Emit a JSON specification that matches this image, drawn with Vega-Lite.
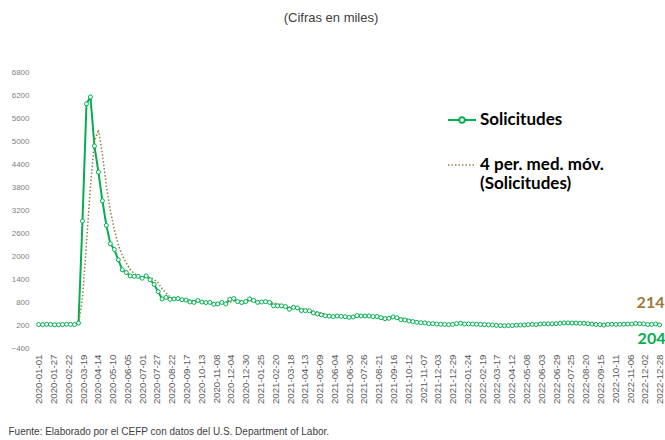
{
  "$schema": "https://vega.github.io/schema/vega-lite/v6.json",
  "autosize": {"type": "none"},
  "width": 630,
  "height": 276,
  "padding": {"left": 37, "top": 72, "right": 0, "bottom": 92},
  "background": "white",
  "title": {"text": "(Cifras en miles)", "anchor": "middle", "frame": "group", "offset": 43, "dx": -21, "font": "Liberation Sans", "fontSize": 13, "fontWeight": "normal", "color": "#404040"},
  "config": {"view": {"stroke": null}},
  "datasets": {
    "claims": [
      {"d":"2020-01-01","v":212},{"d":"2020-01-08","v":210},{"d":"2020-01-15","v":218},
      {"d":"2020-01-22","v":214,"m":213.5},{"d":"2020-01-29","v":205,"m":211.75},{"d":"2020-02-05","v":206,"m":210.75},
      {"d":"2020-02-12","v":212,"m":209.25},{"d":"2020-02-19","v":218,"m":210.25},{"d":"2020-02-26","v":216,"m":213},
      {"d":"2020-03-04","v":211,"m":214.25},{"d":"2020-03-11","v":251,"m":224},{"d":"2020-03-18","v":2914,"m":898},
      {"d":"2020-03-25","v":5970,"m":2336.5},{"d":"2020-04-01","v":6149,"m":3821},{"d":"2020-04-08","v":4870,"m":4975.75},
      {"d":"2020-04-15","v":4190,"m":5294.75},{"d":"2020-04-22","v":3440,"m":4662.25},{"d":"2020-04-29","v":2800,"m":3825},
      {"d":"2020-05-06","v":2320,"m":3187.5},{"d":"2020-05-13","v":2170,"m":2682.5},{"d":"2020-05-20","v":1900,"m":2297.5},
      {"d":"2020-05-27","v":1640,"m":2007.5},{"d":"2020-06-03","v":1570,"m":1820},{"d":"2020-06-10","v":1480,"m":1647.5},
      {"d":"2020-06-17","v":1470,"m":1540},{"d":"2020-06-24","v":1470,"m":1497.5},{"d":"2020-07-01","v":1420,"m":1460},
      {"d":"2020-07-08","v":1480,"m":1460},{"d":"2020-07-15","v":1380,"m":1437.5},{"d":"2020-07-22","v":1260,"m":1385},
      {"d":"2020-07-29","v":1070,"m":1297.5},{"d":"2020-08-05","v":880,"m":1147.5},{"d":"2020-08-12","v":920,"m":1032.5},
      {"d":"2020-08-19","v":870,"m":935},{"d":"2020-08-26","v":880,"m":887.5},{"d":"2020-09-02","v":890,"m":890},
      {"d":"2020-09-09","v":860,"m":875},{"d":"2020-09-16","v":850,"m":870},{"d":"2020-09-23","v":800,"m":850},
      {"d":"2020-09-30","v":790,"m":825},{"d":"2020-10-07","v":840,"m":820},{"d":"2020-10-14","v":800,"m":807.5},
      {"d":"2020-10-21","v":785,"m":803.75},{"d":"2020-10-28","v":790,"m":803.75},{"d":"2020-11-04","v":740,"m":778.75},
      {"d":"2020-11-11","v":750,"m":766.25},{"d":"2020-11-18","v":790,"m":767.5},{"d":"2020-11-25","v":750,"m":757.5},
      {"d":"2020-12-02","v":870,"m":790},{"d":"2020-12-09","v":890,"m":825},{"d":"2020-12-16","v":810,"m":830},
      {"d":"2020-12-23","v":785,"m":838.75},{"d":"2020-12-30","v":810,"m":823.75},{"d":"2021-01-06","v":880,"m":821.25},
      {"d":"2021-01-13","v":840,"m":828.75},{"d":"2021-01-20","v":790,"m":830},{"d":"2021-01-27","v":800,"m":827.5},
      {"d":"2021-02-03","v":810,"m":810},{"d":"2021-02-10","v":790,"m":797.5},{"d":"2021-02-17","v":700,"m":775},
      {"d":"2021-02-24","v":700,"m":750},{"d":"2021-03-03","v":700,"m":722.5},{"d":"2021-03-10","v":680,"m":695},
      {"d":"2021-03-17","v":610,"m":672.5},{"d":"2021-03-24","v":660,"m":662.5},{"d":"2021-03-31","v":645,"m":648.75},
      {"d":"2021-04-07","v":575,"m":622.5},{"d":"2021-04-14","v":575,"m":613.75},{"d":"2021-04-21","v":570,"m":591.25},
      {"d":"2021-04-28","v":515,"m":558.75},{"d":"2021-05-05","v":490,"m":537.5},{"d":"2021-05-12","v":465,"m":510},
      {"d":"2021-05-19","v":440,"m":477.5},{"d":"2021-05-26","v":430,"m":456.25},{"d":"2021-06-02","v":420,"m":438.75},
      {"d":"2021-06-09","v":435,"m":431.25},{"d":"2021-06-16","v":425,"m":427.5},{"d":"2021-06-23","v":415,"m":423.75},
      {"d":"2021-06-30","v":400,"m":418.75},{"d":"2021-07-07","v":410,"m":412.5},{"d":"2021-07-14","v":445,"m":417.5},
      {"d":"2021-07-21","v":435,"m":422.5},{"d":"2021-07-28","v":435,"m":431.25},{"d":"2021-08-04","v":435,"m":437.5},
      {"d":"2021-08-11","v":420,"m":431.25},{"d":"2021-08-18","v":420,"m":427.5},{"d":"2021-08-25","v":390,"m":416.25},
      {"d":"2021-09-01","v":365,"m":398.75},{"d":"2021-09-08","v":375,"m":387.5},{"d":"2021-09-15","v":410,"m":385},
      {"d":"2021-09-22","v":390,"m":385},{"d":"2021-09-29","v":340,"m":378.75},{"d":"2021-10-06","v":330,"m":367.5},
      {"d":"2021-10-13","v":305,"m":341.25},{"d":"2021-10-20","v":290,"m":316.25},{"d":"2021-10-27","v":270,"m":298.75},
      {"d":"2021-11-03","v":260,"m":281.25},{"d":"2021-11-10","v":255,"m":268.75},{"d":"2021-11-17","v":235,"m":255},
      {"d":"2021-11-24","v":235,"m":246.25},{"d":"2021-12-01","v":225,"m":237.5},{"d":"2021-12-08","v":220,"m":228.75},
      {"d":"2021-12-15","v":215,"m":223.75},{"d":"2021-12-22","v":210,"m":217.5},{"d":"2021-12-29","v":215,"m":215},
      {"d":"2022-01-05","v":235,"m":218.75},{"d":"2022-01-12","v":245,"m":226.25},{"d":"2022-01-19","v":225,"m":230},
      {"d":"2022-01-26","v":230,"m":233.75},{"d":"2022-02-02","v":225,"m":231.25},{"d":"2022-02-09","v":220,"m":225},
      {"d":"2022-02-16","v":215,"m":222.5},{"d":"2022-02-23","v":210,"m":217.5},{"d":"2022-03-02","v":205,"m":212.5},
      {"d":"2022-03-09","v":200,"m":207.5},{"d":"2022-03-16","v":190,"m":201.25},{"d":"2022-03-23","v":185,"m":195},
      {"d":"2022-03-30","v":180,"m":188.75},{"d":"2022-04-06","v":185,"m":185},{"d":"2022-04-13","v":185,"m":183.75},
      {"d":"2022-04-20","v":195,"m":186.25},{"d":"2022-04-27","v":200,"m":191.25},{"d":"2022-05-04","v":200,"m":195},
      {"d":"2022-05-11","v":210,"m":201.25},{"d":"2022-05-18","v":215,"m":206.25},{"d":"2022-05-25","v":210,"m":208.75},
      {"d":"2022-06-01","v":225,"m":215},{"d":"2022-06-08","v":230,"m":220},{"d":"2022-06-15","v":230,"m":223.75},
      {"d":"2022-06-22","v":230,"m":228.75},{"d":"2022-06-29","v":235,"m":231.25},{"d":"2022-07-06","v":245,"m":235},
      {"d":"2022-07-13","v":255,"m":241.25},{"d":"2022-07-20","v":255,"m":247.5},{"d":"2022-07-27","v":250,"m":251.25},
      {"d":"2022-08-03","v":250,"m":252.5},{"d":"2022-08-10","v":245,"m":250},{"d":"2022-08-17","v":245,"m":247.5},
      {"d":"2022-08-24","v":235,"m":243.75},{"d":"2022-08-31","v":225,"m":237.5},{"d":"2022-09-07","v":215,"m":230},
      {"d":"2022-09-14","v":210,"m":221.25},{"d":"2022-09-21","v":200,"m":212.5},{"d":"2022-09-28","v":215,"m":210},
      {"d":"2022-10-05","v":220,"m":211.25},{"d":"2022-10-12","v":215,"m":212.5},{"d":"2022-10-19","v":220,"m":217.5},
      {"d":"2022-10-26","v":220,"m":218.75},{"d":"2022-11-02","v":225,"m":220},{"d":"2022-11-09","v":225,"m":222.5},
      {"d":"2022-11-16","v":240,"m":227.5},{"d":"2022-11-23","v":230,"m":230},{"d":"2022-11-30","v":230,"m":231.25},
      {"d":"2022-12-07","v":211,"m":227.75},{"d":"2022-12-14","v":216,"m":221.75},{"d":"2022-12-21","v":225,"m":220.5},
      {"d":"2022-12-28","v":204,"m":214}
    ]
  },
  "encoding": {
    "x": {
      "field": "d", "type": "temporal",
      "scale": {"type": "utc", "domain": [{"year": 2019, "month": 12, "date": 29, "utc": true}, {"year": 2023, "month": 1, "date": 10, "utc": true}]},
      "axis": {
        "values": [
          {"year":2020,"month":1,"date":1,"utc":true},{"year":2020,"month":1,"date":27,"utc":true},{"year":2020,"month":2,"date":22,"utc":true},
          {"year":2020,"month":3,"date":19,"utc":true},{"year":2020,"month":4,"date":14,"utc":true},{"year":2020,"month":5,"date":10,"utc":true},
          {"year":2020,"month":6,"date":5,"utc":true},{"year":2020,"month":7,"date":1,"utc":true},{"year":2020,"month":7,"date":27,"utc":true},
          {"year":2020,"month":8,"date":22,"utc":true},{"year":2020,"month":9,"date":17,"utc":true},{"year":2020,"month":10,"date":13,"utc":true},
          {"year":2020,"month":11,"date":8,"utc":true},{"year":2020,"month":12,"date":4,"utc":true},{"year":2020,"month":12,"date":30,"utc":true},
          {"year":2021,"month":1,"date":25,"utc":true},{"year":2021,"month":2,"date":20,"utc":true},{"year":2021,"month":3,"date":18,"utc":true},
          {"year":2021,"month":4,"date":13,"utc":true},{"year":2021,"month":5,"date":9,"utc":true},{"year":2021,"month":6,"date":4,"utc":true},
          {"year":2021,"month":6,"date":30,"utc":true},{"year":2021,"month":7,"date":26,"utc":true},{"year":2021,"month":8,"date":21,"utc":true},
          {"year":2021,"month":9,"date":16,"utc":true},{"year":2021,"month":10,"date":12,"utc":true},{"year":2021,"month":11,"date":7,"utc":true},
          {"year":2021,"month":12,"date":3,"utc":true},{"year":2021,"month":12,"date":29,"utc":true},{"year":2022,"month":1,"date":24,"utc":true},
          {"year":2022,"month":2,"date":19,"utc":true},{"year":2022,"month":3,"date":17,"utc":true},{"year":2022,"month":4,"date":12,"utc":true},
          {"year":2022,"month":5,"date":8,"utc":true},{"year":2022,"month":6,"date":3,"utc":true},{"year":2022,"month":6,"date":29,"utc":true},
          {"year":2022,"month":7,"date":25,"utc":true},{"year":2022,"month":8,"date":20,"utc":true},{"year":2022,"month":9,"date":15,"utc":true},
          {"year":2022,"month":10,"date":11,"utc":true},{"year":2022,"month":11,"date":6,"utc":true},{"year":2022,"month":12,"date":2,"utc":true},
          {"year":2022,"month":12,"date":28,"utc":true}
        ],
        "labelExpr": "utcFormat(datum.value, '%Y-%m-%d')",
        "labelAngle": -90, "labelFont": "Liberation Sans", "labelFontSize": 9.7, "labelColor": "#595959",
        "labelPadding": 6, "ticks": false, "domain": false, "grid": false, "labelOverlap": false, "labelBound": false, "labelFlush": false,
        "title": "Fuente: Elaborado por el CEFP con datos del U.S. Department of Labor.",
        "titleAnchor": "start", "titleAlign": "left", "titleBaseline": "middle", "titleX": -29, "titleY": 83,
        "titleFont": "Liberation Sans", "titleFontSize": 10, "titleFontWeight": "normal", "titleColor": "#404040"
      }
    },
    "y": {
      "field": "val", "type": "quantitative",
      "scale": {"domain": [-400, 6800], "nice": false, "zero": false},
      "axis": {
        "values": [-400, 200, 800, 1400, 2000, 2600, 3200, 3800, 4400, 5000, 5600, 6200, 6800],
        "format": "d",
        "labelFont": "Liberation Sans", "labelFontSize": 8, "labelColor": "#7F7F7F", "labelPadding": 8,
        "ticks": false, "domain": false, "grid": false, "title": null, "labelOverlap": false
      }
    }
  },
  "layer": [
    {
      "mark": {"type": "rule", "color": "#D9D9D9", "strokeWidth": 1},
      "encoding": {"y": {"datum": 0, "type": "quantitative"}, "x": null}
    },
    {
      "data": {"name": "claims"},
      "transform": [
        {"fold": ["v", "m"], "as": ["serie", "val"]},
        {"filter": "isValid(datum.val)"}
      ],
      "mark": {"type": "line", "strokeCap": "butt"},
      "encoding": {
        "color": {
          "field": "serie", "type": "nominal",
          "scale": {"domain": ["v", "m"], "range": ["#00B050", "#A07A3E"]},
          "legend": {
            "orient": "none", "legendX": 410, "legendY": 33, "title": null, "padding": 0,
            "symbolType": "stroke", "symbolSize": 784, "symbolStrokeWidth": 2,
            "labelFont": "Lato", "labelFontSize": 17, "labelFontWeight": "bold",
            "labelColor": "#000000", "labelOffset": 3, "labelLimit": 300, "rowPadding": 22,
            "labelExpr": "datum.value == 'v' ? 'Solicitudes' : ['4 per. med. móv.', '(Solicitudes)']",
            "encode": {
              "symbols": {
                "update": {
                  "shape": {"signal": "datum.value == 'v' ? 'M-1,0L-0.2,0M0.2,0L1,0M-0.2,0A0.2,0.2,0,1,1,0.2,0A0.2,0.2,0,1,1,-0.2,0' : 'M-1,0L1,0'"},
                  "fill": {"value": "white"}
                }
              }
            }
          }
        },
        "strokeDash": {
          "field": "serie", "type": "nominal",
          "scale": {"domain": ["v", "m"], "range": [[1, 0], [1.5, 2]]},
          "legend": null
        },
        "strokeWidth": {
          "field": "serie", "type": "nominal",
          "scale": {"domain": ["v", "m"], "range": [2, 1.5]},
          "legend": null
        }
      }
    },
    {
      "data": {"name": "claims"},
      "transform": [
        {"fold": ["v"], "as": ["serie", "val"]}
      ],
      "mark": {"type": "point", "shape": "circle", "filled": true, "fill": "white", "stroke": "#00B050", "strokeWidth": 1, "size": 16, "opacity": 1}
    },
    {
      "data": {"values": [{"d": "2022-12-28", "val": 214, "lab": "214"}]},
      "mark": {"type": "text", "align": "left", "baseline": "middle", "dx": -23, "dy": -21, "font": "Lato", "fontSize": 16, "fontWeight": "bold", "color": "#9E7A3A"},
      "encoding": {"text": {"field": "lab"}}
    },
    {
      "data": {"values": [{"d": "2022-12-28", "val": 204, "lab": "204"}]},
      "mark": {"type": "text", "align": "left", "baseline": "middle", "dx": -22, "dy": 14, "font": "Lato", "fontSize": 16, "fontWeight": "bold", "color": "#00B050"},
      "encoding": {"text": {"field": "lab"}}
    }
  ]
}
